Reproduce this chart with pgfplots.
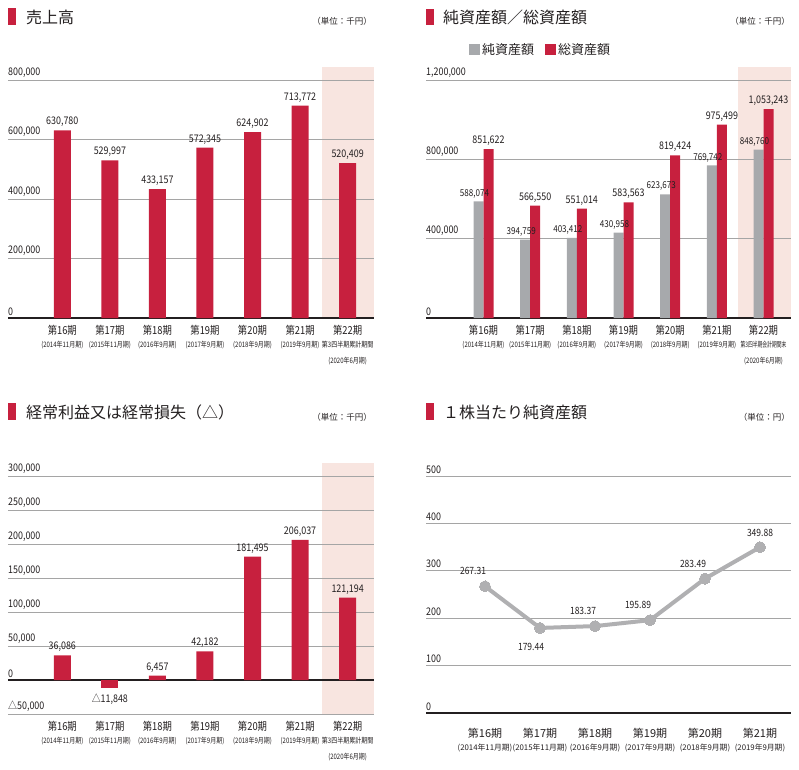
\documentclass[border=0pt]{standalone}
\usepackage{fontspec}
\setmainfont{Noto Sans CJK JP}
\newfontfamily\narrowfont[FakeStretch=0.85]{Noto Sans CJK JP}
\newfontfamily\subnarrow[FakeStretch=0.8]{Noto Sans CJK JP}
\usepackage{graphicx}
\usepackage{pgfplots}
\pgfplotsset{compat=1.18}

\definecolor{barred}{RGB}{199,32,62}
\definecolor{bargray}{RGB}{167,169,172}
\definecolor{bgpink}{RGB}{248,229,224}
\definecolor{gridgray}{RGB}{165,165,165}
\definecolor{txt}{RGB}{35,31,32}
\definecolor{linegray}{RGB}{176,176,178}

\newcommand{\numfont}{\narrowfont\fontsize{10.5}{12}\selectfont}
\newcommand{\catfont}{\narrowfont\fontsize{11}{13}\selectfont}
\newcommand{\subfont}{\subnarrow\fontsize{7.5}{9}\selectfont}
\newcommand{\catfontB}{\fontsize{11}{13}\selectfont}
\newcommand{\subfontB}{\fontsize{7.8}{10}\selectfont}

\pgfplotsset{
  panel/.style={
    scale only axis,
    axis line style={draw=none},
    major tick length=0pt,
    ymajorgrids, grid style={gridgray, line width=0.8pt},
    extra y ticks={0},
    extra y tick style={grid=major, grid style={txt, line width=1.2pt}},
    scaled y ticks=false,
    yticklabel style={font=\numfont, text=txt, anchor=south west, inner sep=0pt, yshift=2.5pt},
    xticklabel style={font=\catfont, text=txt, align=center, anchor=north, inner sep=0pt, yshift=-7pt},
    /pgf/number format/fixed,
    /pgf/number format/precision=0,
    /pgf/number format/assume math mode=true,
  },
  shadeaxis/.style={scale only axis, hide axis},
  pricelabel/.style={draw=none, mark=none,
    nodes near coords={\pgfmathprintnumber[fixed,fixed zerofill,precision=2]{\pgfplotspointmeta}},
    nodes near coords style={font=\narrowfont\fontsize{10}{12}\selectfont, text=txt, inner sep=0pt}},
}

\begin{document}
\begin{tikzpicture}[
  title/.style={anchor=west, inner sep=0pt, font=\fontsize{16}{18}\selectfont, text=txt},
  unit/.style={anchor=east, inner sep=0pt, font=\fontsize{8.5}{10}\selectfont, text=txt}]
\path[use as bounding box] (0,0) rectangle (799pt,-769pt);

% headings
\fill[barred] (8pt,-8pt) rectangle (16pt,-25pt);
\node[title] at (26pt,-17pt) {売上高};
\node[unit] at (372pt,-21pt) {（単位：千円）};
\fill[barred] (426pt,-9pt) rectangle (434pt,-25pt);
\node[title] at (443pt,-17pt) {純資産額／総資産額};
\node[unit] at (790pt,-21pt) {（単位：千円）};
\fill[barred] (8pt,-403pt) rectangle (16pt,-420pt);
\node[title] at (26pt,-412pt) {経常利益又は経常損失（△）};
\node[unit] at (372pt,-417pt) {（単位：千円）};
\fill[barred] (426pt,-403pt) rectangle (434pt,-420pt);
\node[title] at (443pt,-412pt) {１株当たり純資産額};
\node[unit] at (790pt,-417pt) {（単位：円）};

% shaded backgrounds (latest period)
\begin{axis}[shadeaxis, at={(8pt,-318pt)}, anchor=south west, width=366pt, height=251pt,
  xmin=-1.142, xmax=6.555, ymin=0, ymax=843700]
\fill[bgpink] (axis cs:5.462,0) rectangle (axis cs:6.555,843700);
\end{axis}
\begin{axis}[shadeaxis, at={(426pt,-318pt)}, anchor=south west, width=365pt, height=251pt,
  xmin=-1.232, xmax=6.589, ymin=0, ymax=1265546]
\fill[bgpink] (axis cs:5.453,0) rectangle (axis cs:6.589,1265546);
\end{axis}
\begin{axis}[shadeaxis, at={(8pt,-714pt)}, anchor=south west, width=366pt, height=251pt,
  xmin=-1.142, xmax=6.555, ymin=-50000, ymax=319118]
\fill[bgpink] (axis cs:5.462,-50000) rectangle (axis cs:6.555,319118);
\end{axis}

% 売上高
\begin{axis}[panel, at={(8pt,-318pt)}, anchor=south west,
  width=366pt, height=251pt,
  xmin=-1.142, xmax=6.555, ymin=0, ymax=843700,
  ytick={200000,400000,600000,800000},
  xtick={0,...,6},
  xticklabels={{第16期\\{\subfont (2014年11月期)}},{第17期\\{\subfont (2015年11月期)}},
    {第18期\\{\subfont (2016年9月期)}},{第19期\\{\subfont (2017年9月期)}},
    {第20期\\{\subfont (2018年9月期)}},{第21期\\{\subfont (2019年9月期)}},
    {第22期\\{\subfont 第3四半期累計期間}\\[3pt]{\subfont (2020年6月期)}}},
  ybar, bar width=17pt,
  nodes near coords, nodes near coords style={font=\numfont, text=txt},
]
\addplot[fill=barred, draw=none] coordinates {
  (0,630780) (1,529997) (2,433157) (3,572345) (4,624902) (5,713772) (6,520409)};
\end{axis}

% 純資産額／総資産額
\begin{axis}[panel, at={(426pt,-318pt)}, anchor=south west,
  width=365pt, height=251pt,
  xmin=-1.232, xmax=6.589, ymin=0, ymax=1265546,
  ytick={400000,800000,1200000},
  xtick={0,...,6},
  xticklabels={{第16期\\{\subfont (2014年11月期)}},{第17期\\{\subfont (2015年11月期)}},
    {第18期\\{\subfont (2016年9月期)}},{第19期\\{\subfont (2017年9月期)}},
    {第20期\\{\subfont (2018年9月期)}},{第21期\\{\subfont (2019年9月期)}},
    {第22期\\{\subfont\scalebox{0.8}[1]{第3四半期会計期間末}}\\[3pt]{\subfont (2020年6月期)}}},
  ybar=0pt, bar width=10pt,
  legend style={at={(0.1178,1.0697)}, anchor=west, draw=none, fill=none,
    legend columns=2, font=\fontsize{13}{15}\selectfont, text=txt,
    inner sep=0pt, /tikz/every even column/.append style={column sep=9pt}},
  legend image code/.code={\fill[#1] (0pt,-5.5pt) rectangle (11pt,5.5pt);},
]
\addplot[fill=bargray, draw=none, nodes near coords,
  nodes near coords style={font=\narrowfont\fontsize{9.5}{11}\selectfont, text=txt, xshift=-4pt}]
  coordinates {(0,588074) (1,394759) (2,403412) (3,430958) (4,623673) (5,769742) (6,848760)};
\addplot[fill=barred, draw=none, nodes near coords,
  nodes near coords style={font=\numfont, text=txt}]
  coordinates {(0,851622) (1,566550) (2,551014) (3,583563) (4,819424) (5,975499) (6,1053243)};
\legend{純資産額, 総資産額}
\end{axis}

% 経常利益又は経常損失
\begin{axis}[panel, at={(8pt,-714pt)}, anchor=south west,
  width=366pt, height=251pt,
  xmin=-1.142, xmax=6.555, ymin=-50000, ymax=319118,
  ytick={-50000,50000,100000,150000,200000,250000,300000},
  yticklabels={{△50,000},{50,000},{100,000},{150,000},{200,000},{250,000},{300,000}},
  xtick={0,...,6},
  xticklabels={{第16期\\{\subfont (2014年11月期)}},{第17期\\{\subfont (2015年11月期)}},
    {第18期\\{\subfont (2016年9月期)}},{第19期\\{\subfont (2017年9月期)}},
    {第20期\\{\subfont (2018年9月期)}},{第21期\\{\subfont (2019年9月期)}},
    {第22期\\{\subfont 第3四半期累計期間}\\[3pt]{\subfont (2020年6月期)}}},
  ybar, bar width=17pt, bar shift=0pt,
]
\addplot[fill=barred, draw=none, nodes near coords,
  nodes near coords style={font=\numfont, text=txt}] coordinates {
  (0,36086) (2,6457) (3,42182) (4,181495) (5,206037) (6,121194)};
% loss shown with a triangle
\addplot[fill=barred, draw=none, point meta={-y},
  nodes near coords={△\pgfmathprintnumber{\pgfplotspointmeta}},
  nodes near coords style={font=\numfont, text=txt, anchor=north, yshift=-2pt}] coordinates {
  (1,-11848)};
\end{axis}

% 1株当たり純資産額
\begin{axis}[panel, at={(426pt,-713pt)}, anchor=south west,
  width=365pt, height=237pt,
  xmin=-1.073, xmax=5.564, ymin=0, ymax=500,
  ytick={100,200,300,400,500},
  xtick={0,...,5},
  xticklabel style={font=\catfontB, yshift=-8pt},
  xticklabels={{第16期\\{\subfontB (2014年11月期)}},{第17期\\{\subfontB (2015年11月期)}},
    {第18期\\{\subfontB (2016年9月期)}},{第19期\\{\subfontB (2017年9月期)}},
    {第20期\\{\subfontB (2018年9月期)}},{第21期\\{\subfontB (2019年9月期)}}},
]
\addplot[linegray, line width=4pt, mark=*, mark size=5.5pt,
  mark options={fill=linegray, draw=linegray, line width=0pt}]
  coordinates {(0,267.31) (1,179.44) (2,183.37) (3,195.89) (4,283.49) (5,349.88)};
\addplot[pricelabel, nodes near coords style={anchor=south, yshift=11pt, xshift=-12pt}]
  coordinates {(0,267.31) (2,183.37) (3,195.89) (4,283.49)};
\addplot[pricelabel, nodes near coords style={anchor=south, yshift=10pt}]
  coordinates {(5,349.88)};
\addplot[pricelabel, nodes near coords style={anchor=north, yshift=-15pt, xshift=-9pt}]
  coordinates {(1,179.44)};
\end{axis}
\end{tikzpicture}
\end{document}
